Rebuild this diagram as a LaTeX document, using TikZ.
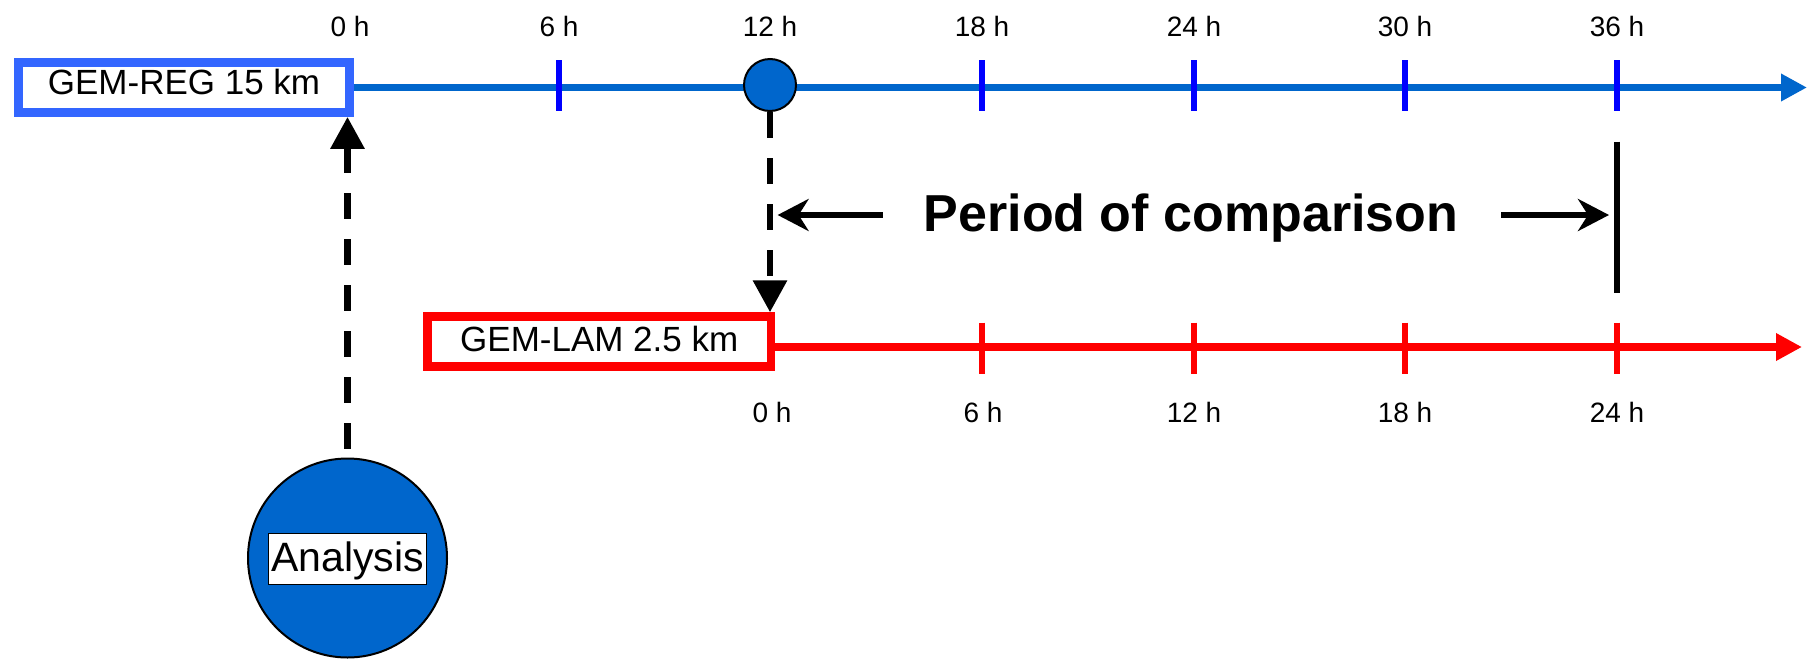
\documentclass[tikz,border=0pt]{standalone}
\usepackage{fontspec}
\setmainfont{Liberation Sans}
\usetikzlibrary{arrows.meta}
\definecolor{lineblue}{HTML}{0066CC}
\definecolor{boxblue}{HTML}{3366FF}
\definecolor{tickblue}{HTML}{0000FF}
\definecolor{lamred}{HTML}{FF0000}
\tikzset{bigtip/.tip={Triangle[length=32pt,width=33pt]}}
\begin{document}
\begin{tikzpicture}[x=1pt,y=-1pt,
  lbl/.style={font=\fontsize{28}{32}\selectfont, anchor=base, inner sep=0pt},
  modelbox/.style={line width=8.5pt, fill=white, font=\fontsize{35}{40}\selectfont, inner sep=0pt, text height=25pt},
  timeline/.style={line width=7.5pt, -{Triangle[length=26pt,width=26pt]}},
  tick/.style={line width=6.5pt},
  dashline/.style={line width=6.5pt, dash pattern=on 26pt off 20pt},
  dot/.style={circle, fill=lineblue, draw=black, line width=2pt, inner sep=0pt},
  perarrow/.style={line width=6.7pt, -{Stealth[length=31pt,width=32pt,inset=10pt]}}
]
\useasboundingbox (0,0) rectangle (1809,659);

% model boxes
\node[modelbox, draw=boxblue, minimum width=331.4pt, minimum height=50.4pt, text depth=10.6pt] (reg) at (184,87.5) {GEM-REG 15 km};
\node[modelbox, draw=lamred, minimum width=343.5pt, minimum height=50pt, text depth=4.6pt] (lam) at (599.25,341.5) {GEM-LAM 2.5 km};

% timelines
\coordinate (regend) at (1807,87.5);
\coordinate (lamend) at (1802,347);
\draw[timeline, lineblue] (reg.east) -- (regend);
\draw[timeline, lamred] ([yshift=-5.5pt]lam.east) -- (lamend);

% ticks, blue
\foreach \x in {559,982,1194,1405,1617}
  \draw[tick, tickblue] (\x,60) -- (\x,110.7);
% ticks, red
\foreach \x in {982,1194,1405,1617}
  \draw[tick, lamred] (\x,322.7) -- (\x,374);

% top labels
\foreach \x/\t [count=\i] in {350/0 h,559/6 h,770/12 h,982/18 h,1194/24 h,1405/30 h,1617/36 h}
  \node[lbl] (top\i) at (\x,36) {\t};
% bottom labels
\foreach \x/\t [count=\i] in {772/0 h,983/6 h,1194/12 h,1405/18 h,1617/24 h}
  \node[lbl] (bot\i) at (\x,422.3) {\t};

% 12 h dot
\node[dot, minimum size=52pt] (c12) at (770,85) {};
\draw[dashline, -bigtip] (c12.south) -- (c12.south |- lam.north);

% analysis
\node[dot, minimum size=199pt] (ana) at (347.5,558) {};
\node[draw=black, fill=white, line width=1.5pt, minimum width=158pt, minimum height=51pt, inner sep=0pt, text height=30pt, text depth=4.2pt, font=\fontsize{41}{45}\selectfont] (anatext) at (347.5,558.8) {Analysis};
\draw[dashline, bigtip-] (reg.south -| ana.north) -- (ana.north);

% period of comparison
\node[font=\bfseries\fontsize{52}{60}\selectfont, anchor=base, inner sep=0pt] (period) at (1191,231) {Period of comparison};
\coordinate (bartop) at (1617,141.7);
\coordinate (barbot) at (1617,292.7);
\draw[line width=6.7pt] (bartop) -- (barbot);
\coordinate (pl) at (882.7,215);
\coordinate (pr) at (1501,215);
\draw[perarrow, shorten >=7.6pt] (pl) -- (pl -| c12.south);
\draw[perarrow, shorten >=8pt] (pr) -- (pr -| bartop);
\end{tikzpicture}
\end{document}
